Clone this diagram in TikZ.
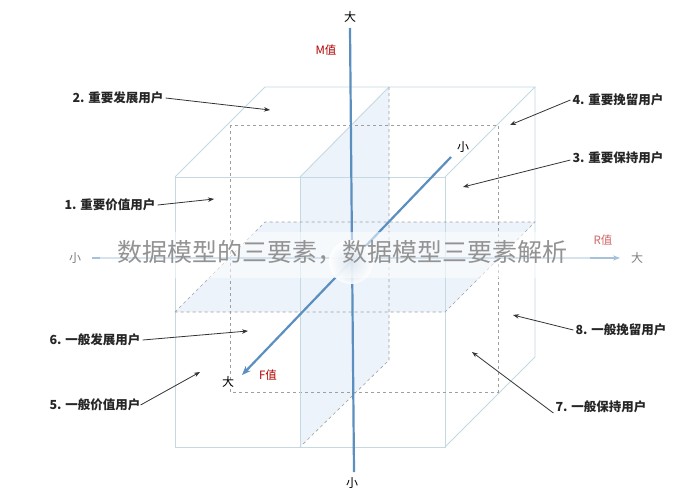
\documentclass[tikz,border=0pt]{standalone}
\usepackage{fontspec}
\setmainfont{Noto Sans CJK SC}
\usetikzlibrary{arrows.meta}
\definecolor{axisblue}{HTML}{5B8FBF}
\definecolor{edgecol}{HTML}{C5D9E3}
\definecolor{planecol}{HTML}{EDF3FA}
\begin{document}
\begin{tikzpicture}[x=1pt,y=-1pt,
  edge/.style={draw=edgecol,line width=0.9pt},
  dashededge/.style={draw=gray!75,dashed,line width=0.6pt},
  axis/.style={draw=axisblue,line width=2.2pt},
  lbl/.style={font=\fontsize{12.5}{13}\selectfont\bfseries,text=black!85,inner sep=2pt},
  ptr/.style={-{Stealth[length=6pt,width=4.5pt]},line width=0.8pt,black!80},
  val/.style={font=\fontsize{11.5}{12}\selectfont,text=red!70!black},
  end/.style={font=\fontsize{12}{12}\selectfont}]
\useasboundingbox[fill=white] (0,0) rectangle (685,490);
% planes
\fill[planecol] (300,177) -- (389,87) -- (389,360) -- (300,447) -- cycle;
\fill[planecol] (175,312) -- (265,222) -- (535,222) -- (445,312) -- cycle;
% outer cube
\draw[edge] (175,177) rectangle (445,447);
\draw[edge] (175,177) -- (265,87) -- (535,87) -- (445,177);
\draw[edge] (535,87) -- (535,357) -- (445,447);
% middle dashed rectangle
\draw[dashededge] (230,125) rectangle (498,392);
% vertical plane edges
\draw[edge] (300,177) -- (389,87);
\draw[dashededge] (389,87) -- (389,360) -- (300,447);
\draw[edge] (300,177) -- (300,447);
% horizontal plane edges
\draw[dashededge] (175,312) -- (265,222) -- (535,222) -- (445,312) -- (175,312);
% axes
\coordinate (ctop) at (350,28);
\coordinate (cbot) at (354,472);
\coordinate (cl) at (92,258);
\coordinate (cr) at (620,258);
\coordinate (dback) at (451,157);
\coordinate (dfront) at (242,375);
\draw[axis] (ctop) -- (cbot);
\draw[axis,draw=axisblue!55,-{Stealth[length=7pt]}] (cl) -- (cr);
\draw[axis,-{Stealth[length=9pt,width=7pt]}] (dback) -- (dfront);
\shade[inner color=axisblue!45,outer color=white,opacity=0.9] (351,262) circle (22);
% end labels
\node[end] (tbig) at (350,17) {大};
\node[end] (bsmall) at (352,483) {小};
\node[end,text=gray] (lsmall) at (75,258) {小};
\node[end,text=gray] (rbig) at (637,258) {大};
\node[end] (dsmall) at (463,147) {小};
\node[end] (dbig) at (228,382) {大};
\node[val] (mval) at (326,50) {M值};
\node[val,opacity=0.6] (rval) at (603,240) {R值};
\node[val] (fval) at (268,375) {F值};
% watermark
\fill[white,opacity=0.55] (100,232) rectangle (590,278);
\node[font=\fontsize{25}{28}\selectfont,text=gray!85] (wm) at (342,252) {数据模型的三要素，数据模型三要素解析};
% category labels
\node[lbl] (l2) at (118,98) {2. 重要发展用户};
\node[lbl] (l1) at (110,205) {1. 重要价值用户};
\node[lbl] (l6) at (95,340) {6. 一般发展用户};
\node[lbl] (l5) at (95,405) {5. 一般价值用户};
\node[lbl] (l4) at (618,100) {4. 重要挽留用户};
\node[lbl] (l3) at (618,158) {3. 重要保持用户};
\node[lbl] (l8) at (621,330) {8. 一般挽留用户};
\node[lbl] (l7) at (601,407) {7. 一般保持用户};
\coordinate (t2) at (270,110);
\coordinate (t1) at (214,199);
\coordinate (t6) at (248,331);
\coordinate (t5) at (200,372);
\coordinate (t4) at (510,125);
\coordinate (t3) at (463,187);
\coordinate (t8) at (513,315);
\coordinate (t7) at (472,352);
\draw[ptr] (l2.east) -- (t2);
\draw[ptr] (l1.east) -- (t1);
\draw[ptr] (l6.east) -- (t6);
\draw[ptr] ([xshift=-2pt]l5.east) -- (t5);
\draw[ptr] (l4.west) -- (t4);
\draw[ptr] (l3.west) ++(0,2) -- (t3);
\draw[ptr] (l8.west) -- (t8);
\draw[ptr] ([yshift=-6pt]l7.west) -- (t7);
\end{tikzpicture}
\end{document}
